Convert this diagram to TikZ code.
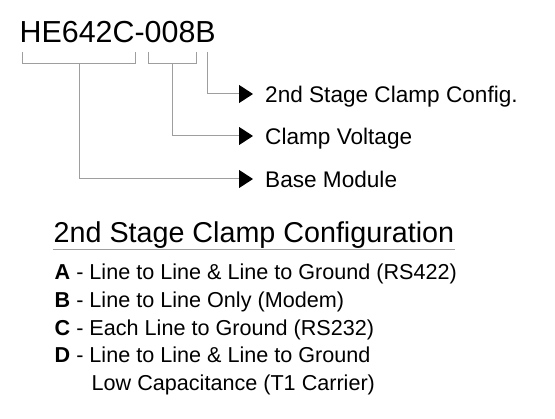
\documentclass[tikz,border=0pt]{standalone}
\usepackage{fontspec}
\setmainfont{Liberation Sans}
\usetikzlibrary{arrows.meta}

\begin{document}
\begin{tikzpicture}[x=1pt, y=-1pt]
\tikzset{bracket/.style={draw=black!38, line width=1pt},
  feed/.style={bracket, -{Triangle[length=14pt, width=18pt, color=black, fill=black]}, shorten >=12pt},
  partlbl/.style={anchor=west, inner sep=0pt, text height=16.2pt, text depth=0pt, font=\fontsize{22.6}{26}\selectfont},
  itemlbl/.style={anchor=base west, inner sep=0pt, font=\fontsize{21.6}{26}\selectfont}}
\useasboundingbox (0, 0) rectangle (555, 419);
\node[anchor=base west, inner sep=0pt, font=\fontsize{30.4}{36}\selectfont] (P) at (19.5, 43) {HE642C-008B};
% brackets under the part number
\draw[bracket] (22.7, 52) -- (22.7, 64) -- (135, 64) -- (135, 52);
\draw[bracket] (148, 52) -- (148, 64) -- (196, 64) -- (196, 52);
\coordinate (T1) at (79, 64);
\coordinate (T2) at (172, 64);
\coordinate (T3) at (207, 52);
\node[partlbl] (L1) at (265, 94) {2nd Stage Clamp Config.};
\node[partlbl] (L2) at (265, 136) {Clamp Voltage};
\node[partlbl] (L3) at (265, 179) {Base Module};
\draw[feed] (T3) |- (L1.west);
\draw[feed] (T2) |- (L2.west);
\draw[feed] (T1) |- (L3.west);
% configuration table
\node[anchor=base west, inner xsep=1pt, inner ysep=0pt, font=\fontsize{28.7}{34}\selectfont] (H) at (52.5, 243) {2nd Stage Clamp Configuration};
\draw[bracket, line width=1.3pt] (H.south west) -- (H.south east);
\node[itemlbl] (A) at (54.5, 280) {\textbf{A} - Line to Line \& Line to Ground (RS422)};
\node[itemlbl] (B) at (54.5, 308) {\textbf{B} - Line to Line Only (Modem)};
\node[itemlbl] (C) at (54.5, 336) {\textbf{C} - Each Line to Ground (RS232)};
\node[itemlbl] (D) at (54.5, 363) {\textbf{D} - Line to Line \& Line to Ground};
\node[itemlbl] (D2) at (91.5, 391) {Low Capacitance (T1 Carrier)};
\end{tikzpicture}
\end{document}
